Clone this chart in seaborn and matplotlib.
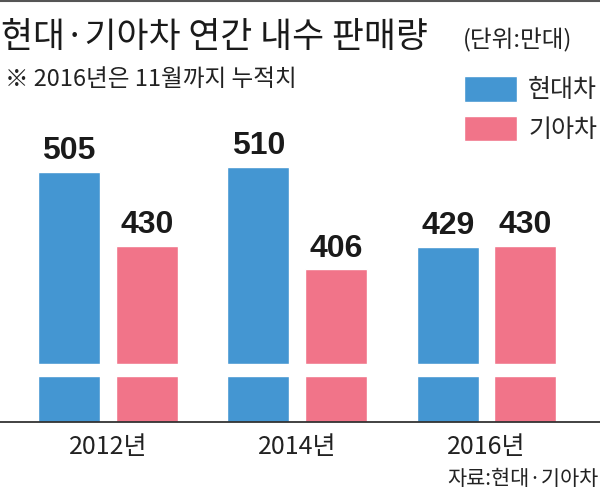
import matplotlib
matplotlib.use("Agg")
import matplotlib.pyplot as plt
from matplotlib import font_manager
from matplotlib.lines import Line2D
import pandas as pd
import seaborn as sns

# 데이터 (단위: 만대)
years = ["2012년", "2014년", "2016년"]
hyundai = [505, 510, 429]
kia = [430, 406, 430]
makers = ["현대차", "기아차"]

blue = "#4496D2"
pink = "#F17489"

sns.set_theme(style="white")
plt.rcParams["font.family"] = ["Noto Sans CJK KR", "DejaVu Sans"]

_names = {f.name for f in font_manager.fontManager.ttflist}
num_font = "Liberation Sans Narrow" if "Liberation Sans Narrow" in _names else "Liberation Sans"

df = pd.DataFrame({"year": years, makers[0]: hyundai, makers[1]: kia})
df = df.melt(id_vars="year", var_name="maker", value_name="sales")

fig = plt.figure(figsize=(6, 5), dpi=100)
ax = fig.add_axes([0, 0.156, 1, 0.644])

sns.barplot(data=df, x="year", y="sales", hue="maker", palette=[blue, pink],
            saturation=1, width=0.82, gap=0.2, ax=ax)

# 잘린 축: 아래쪽을 생략
ax.set_ylim(251, 578)
ax.set_xlim(-0.57, 2.6)
ax.axhspan(297.7, 309.5, color="white", zorder=5)

for cont in ax.containers:
    ax.bar_label(cont, padding=4, fontsize=23, fontweight="bold",
                 family=num_font, color="#1a1a1a")

for s in ["top", "right", "left"]:
    ax.spines[s].set_visible(False)
ax.spines["bottom"].set_color("#333333")
ax.spines["bottom"].set_linewidth(1.3)
ax.set_yticks([])
ax.set_xlabel("")
ax.set_ylabel("")
ax.tick_params(axis="x", length=0, pad=9, labelsize=18, labelcolor="#222222")

ax.legend(loc="upper right", bbox_to_anchor=(0.995, 1 - 76 / 500),
          bbox_transform=fig.transFigure, frameon=False, fontsize=18,
          handlelength=2.1, handleheight=1.2, handletextpad=0.45,
          labelspacing=0.5, borderpad=0, borderaxespad=0)

fig.text(0.002, 1 - 38 / 500, "현대·기아차 연간 내수 판매량", fontsize=25,
         va="center", ha="left", color="#1a1a1a")
fig.text(0.772, 1 - 40 / 500, "(단위:만대)", fontsize=17, va="center",
         ha="left", color="#222222")
fig.text(0.008, 1 - 80 / 500, "※ 2016년은 11월까지 누적치", fontsize=17,
         va="center", ha="left", color="#222222")
fig.text(0.997, 1 - 479 / 500, "자료:현대·기아차", fontsize=15,
         va="center", ha="right", color="#222222")

fig.add_artist(Line2D([0, 1], [0.998, 0.998], color="#555555", lw=1.5,
                      transform=fig.transFigure))

fig.savefig("out.png", dpi=100, facecolor="white")
